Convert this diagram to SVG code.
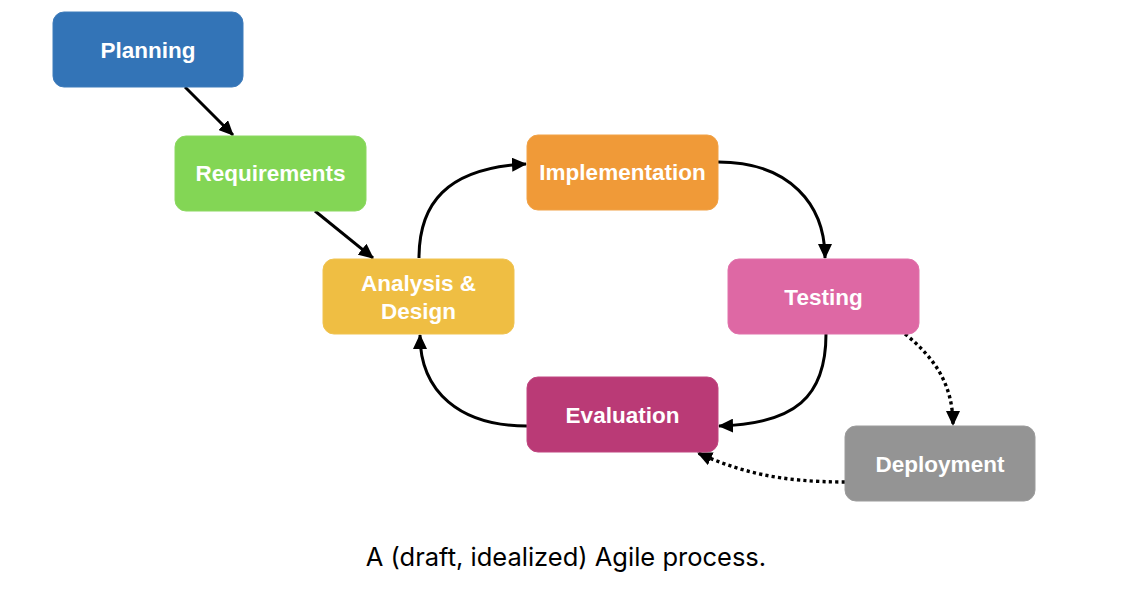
<svg xmlns="http://www.w3.org/2000/svg" width="1138" height="603" viewBox="0 0 1138 603">
<style>
.box{stroke-width:1}
.lbl{font-family:"Liberation Sans",Arial,sans-serif;font-weight:bold;font-size:22.5px;fill:#ffffff;text-anchor:middle}
.con{fill:none;stroke:#000;stroke-width:3}
.dot{stroke-dasharray:3.2 3.2;stroke-width:3.4}
.cap{font-family:Inter,"Noto Sans",sans-serif;font-size:25.5px;fill:#000;text-anchor:middle}
</style>
<defs>
<marker id="ah" markerUnits="userSpaceOnUse" markerWidth="15" markerHeight="14" refX="14" refY="7" orient="auto" viewBox="0 0 15 14">
<path d="M0,0 L15,7 L0,14 z" fill="#000"/>
</marker>
</defs>
<rect width="1138" height="603" fill="#fff"/>
<g id="connectors">
<path class="con" d="M185,87 L233,135" marker-end="url(#ah)"/>
<path class="con" d="M315,211 L373,258" marker-end="url(#ah)"/>
<path class="con" d="M419,258 C419,205 445,168 526,164" marker-end="url(#ah)"/>
<path class="con" d="M718,162 C790,162 825,205 825,258" marker-end="url(#ah)"/>
<path class="con" d="M826,334 C826,397 795,424 719,426" marker-end="url(#ah)"/>
<path class="con" d="M527,426 C460,426 420,392 420,335" marker-end="url(#ah)"/>
<path class="con dot" d="M905,334 C935,358 953,385 953,425" marker-end="url(#ah)"/>
<path class="con dot" d="M845,482 C780,482 740,472 698,453" marker-end="url(#ah)"/>
</g>
<g id="planning">
<rect class="box" x="53" y="12" width="190" height="75" rx="11" fill="#3374b7" stroke="#3f7cbb"/>
<text class="lbl" x="148" y="58">Planning</text>
</g>
<g id="requirements">
<rect class="box" x="175" y="136" width="191" height="75" rx="11" fill="#83d655" stroke="#8cd862"/>
<text class="lbl" x="270.5" y="181">Requirements</text>
</g>
<g id="analysis">
<rect class="box" x="323" y="259" width="191" height="75" rx="11" fill="#efbe43" stroke="#f0c350"/>
<text class="lbl" x="418.5" y="291">Analysis &amp;</text>
<text class="lbl" x="418.5" y="319">Design</text>
</g>
<g id="implementation">
<rect class="box" x="527" y="135" width="191" height="75" rx="11" fill="#f09a38" stroke="#f1a247"/>
<text class="lbl" x="622.5" y="180">Implementation</text>
</g>
<g id="testing">
<rect class="box" x="728" y="259" width="191" height="75" rx="11" fill="#de68a4" stroke="#e072ab"/>
<text class="lbl" x="823.5" y="305">Testing</text>
</g>
<g id="evaluation">
<rect class="box" x="527" y="377" width="191" height="75" rx="11" fill="#ba3a76" stroke="#c04780"/>
<text class="lbl" x="622.5" y="423">Evaluation</text>
</g>
<g id="deployment">
<rect class="box" x="845" y="426" width="190" height="75" rx="11" fill="#949494" stroke="#9c9c9c"/>
<text class="lbl" x="940" y="472">Deployment</text>
</g>
<text class="cap" x="566" y="566">A (draft, idealized) Agile process.</text>
</svg>
